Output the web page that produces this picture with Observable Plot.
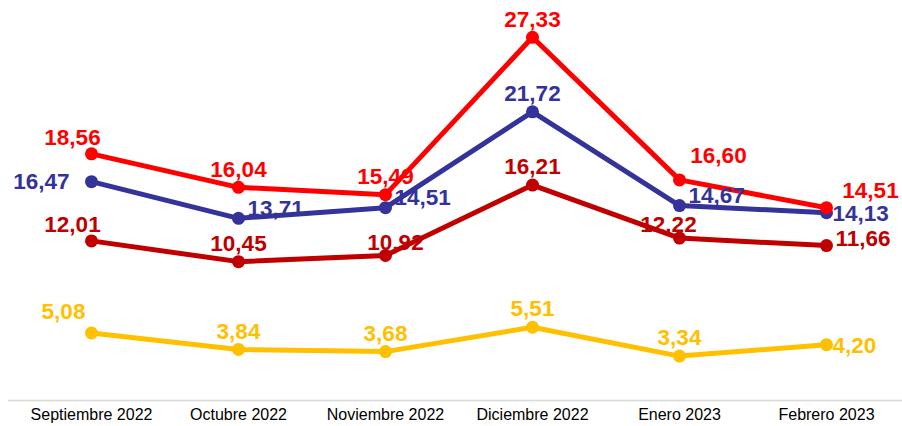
<!DOCTYPE html>
<html>
<head>
<meta charset="utf-8">
<script src="https://cdn.jsdelivr.net/npm/d3@7"></script>
<script src="https://cdn.jsdelivr.net/npm/@observablehq/plot@0.6"></script>
<style>
  html, body { margin: 0; padding: 0; background: #ffffff; }
  #chart { width: 902px; height: 426px; }
</style>
</head>
<body>
<div id="chart"></div>
<script>
const months = ["Septiembre 2022", "Octubre 2022", "Noviembre 2022", "Diciembre 2022", "Enero 2023", "Febrero 2023"];
const seriesNames = ["Serie A", "Serie B", "Serie C", "Serie D"];
const seriesColors = ["#FF0000", "#333399", "#C00000", "#FFC000"];

const serieA = [18.56, 16.04, 15.49, 27.33, 16.60, 14.51];
const serieB = [16.47, 13.71, 14.51, 21.72, 14.67, 14.13];
const serieC = [12.01, 10.45, 10.92, 16.21, 12.22, 11.66];
const serieD = [5.08, 3.84, 3.68, 5.51, 3.34, 4.20];

// data-label placement keywords (like Excel's label position option)
const placeA = ["NW", "N", "N", "N", "NE", "ENE"];
const placeB = ["W", "E", "E", "N", "E", "ESE"];
const placeC = ["NW", "N", "NNE", "N", "NNW", "E2"];
const placeD = ["WNW", "N", "N", "N", "N", "ESE"];

const allValues = [serieA, serieB, serieC, serieD];
const allPlaces = [placeA, placeB, placeC, placeD];

// draw order: bottom series first
const drawOrder = [3, 2, 1, 0];
const rows = [];
for (const si of drawOrder) {
  months.forEach((m, i) => {
    rows.push({ serie: seriesNames[si], month: m, value: allValues[si][i], place: allPlaces[si][i] });
  });
}

const fmt = v => d3.format(".2f")(v).replace(".", ",");

const placements = {
  N:   { dx: 0,   dy: -18, textAnchor: "middle" },
  NW:  { dx: -19, dy: -16, textAnchor: "middle" },
  WNW: { dx: -28, dy: -21, textAnchor: "middle" },
  NNE: { dx: 10,  dy: -13, textAnchor: "middle" },
  NNW: { dx: -11, dy: -13, textAnchor: "middle" },
  NE:  { dx: 39,  dy: -24, textAnchor: "middle" },
  ENE: { dx: 44,  dy: -17, textAnchor: "middle" },
  E:   { dx: 9,   dy: -10, textAnchor: "start" },
  E2:  { dx: 9,   dy: -7,  textAnchor: "start" },
  ESE: { dx: 6,   dy: 1,   textAnchor: "start" },
  W:   { dx: -22, dy: 0,   textAnchor: "end" }
};

const labelMarks = Object.entries(placements).map(([key, p]) =>
  Plot.text(rows.filter(d => d.place === key), {
    x: "month", y: "value", text: d => fmt(d.value), fill: "serie",
    dx: p.dx, dy: p.dy, textAnchor: p.textAnchor,
    fontSize: 22.5, fontWeight: "bold", fontFamily: "'Liberation Sans', Arial, sans-serif"
  })
);

const chart = Plot.plot({
  width: 902,
  height: 426,
  marginTop: 0,
  marginBottom: 26,
  marginLeft: 8,
  marginRight: 0,
  style: { fontFamily: "'Liberation Sans', Arial, sans-serif", fontSize: "16px", color: "#000", background: "#ffffff", overflow: "visible" },
  x: { type: "point", domain: months, range: [15, 902], padding: 0.5, label: null, tickSize: 0, tickPadding: 8 },
  y: { domain: [0, 30.1], axis: null },
  color: { domain: seriesNames, range: seriesColors },
  marks: [
    Plot.ruleY([0], { stroke: "#d9d9d9", strokeWidth: 1.5 }),
    ...drawOrder.map(si => Plot.line(rows.filter(d => d.serie === seriesNames[si]), {
      x: "month", y: "value", stroke: "serie", strokeWidth: 5, strokeLinejoin: "round", strokeLinecap: "round"
    })),
    ...drawOrder.map(si => Plot.dot(rows.filter(d => d.serie === seriesNames[si]), {
      x: "month", y: "value", fill: "serie", r: 6.5, stroke: null
    })),
    ...labelMarks
  ]
});

document.getElementById("chart").appendChild(chart);
</script>
</body>
</html>
